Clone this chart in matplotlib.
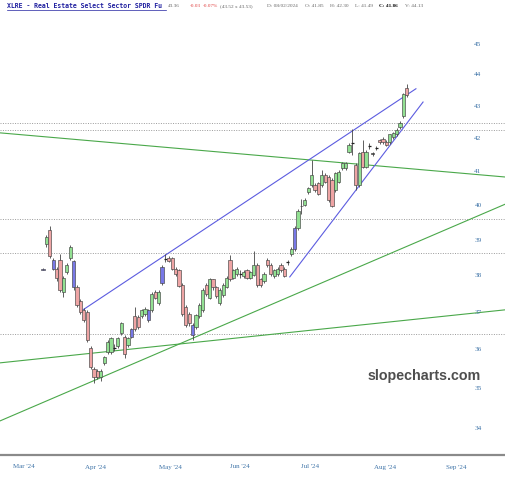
import numpy as np
import pandas as pd
import matplotlib
matplotlib.use("Agg")
import matplotlib.pyplot as plt
import matplotlib.ticker as mticker
from matplotlib.patches import Rectangle
from matplotlib.transforms import blended_transform_factory

# trading calendar (index of trading days since 2024-03-01)
holidays = ["2024-03-29", "2024-05-27", "2024-06-19", "2024-07-04", "2024-09-02"]
days = pd.bdate_range("2024-03-01", "2024-09-30")
days = days[~days.isin(pd.to_datetime(holidays))]
first_bar = 15  # 2024-03-22

opens = [38.20, 38.88, 39.30, 38.45, 38.20, 38.45, 37.55, 38.10, 38.50, 38.40,
         37.70, 37.30, 37.05, 37.00, 36.05, 35.50, 35.45, 35.30, 35.65, 35.95,
         35.95, 36.06, 36.10, 36.45, 36.35, 36.13, 36.54, 36.90, 36.88, 36.90,
         36.95, 37.07, 37.07, 37.55, 37.25, 37.80, 38.46, 38.50, 38.50, 38.20,
         38.15, 37.75, 37.15, 36.95, 36.67, 36.60, 36.90, 37.07, 37.75, 37.40,
         37.90, 37.70, 37.25, 37.48, 37.70, 38.45, 37.95, 38.05, 38.06, 38.00,
         38.15, 37.95, 38.03, 38.30, 37.90, 37.85, 38.45, 38.30, 38.00, 38.05,
         38.30, 38.20, 38.37, 38.60, 38.75, 39.35, 40.00, 40.02, 40.40, 40.60,
         40.60, 40.65, 40.60, 40.90, 40.85, 40.75, 40.45, 40.70, 41.10, 41.10,
         41.60, 41.85, 41.20, 40.60, 41.60, 41.15, 41.80, 41.56, 41.70, 41.95,
         42.00, 41.90, 41.90, 42.05, 42.13, 42.35, 42.70, 43.60]
highs = [38.23, 39.15, 39.40, 38.50, 38.25, 38.62, 38.00, 38.35, 38.85, 38.45,
         37.75, 37.35, 37.12, 37.05, 36.10, 35.55, 35.50, 35.50, 35.85, 36.25,
         36.35, 36.15, 36.35, 36.75, 36.40, 36.35, 36.58, 37.15, 36.92, 37.10,
         37.15, 37.10, 37.55, 37.60, 37.60, 38.30, 38.60, 38.55, 38.52, 38.25,
         38.18, 37.80, 37.20, 37.00, 36.70, 36.95, 37.25, 37.65, 37.80, 37.95,
         37.92, 37.72, 37.65, 37.80, 38.00, 38.58, 38.18, 38.25, 38.15, 38.15,
         38.18, 38.12, 38.70, 38.35, 37.95, 38.10, 38.50, 38.35, 38.20, 38.25,
         38.35, 38.25, 38.45, 38.80, 39.40, 39.90, 40.20, 40.22, 40.55, 41.35,
         40.65, 40.70, 41.06, 40.95, 40.90, 40.80, 41.00, 41.05, 41.30, 41.30,
         41.88, 42.30, 41.25, 41.60, 41.97, 41.65, 41.88, 41.60, 41.78, 42.00,
         42.05, 41.95, 42.16, 42.22, 42.32, 42.55, 43.42, 43.72]
lows = [38.15, 38.80, 38.50, 38.15, 37.85, 37.55, 37.42, 38.05, 38.45, 37.60,
        37.15, 36.95, 36.75, 36.20, 35.50, 35.15, 35.25, 35.20, 35.60, 35.90,
        35.90, 35.98, 36.05, 36.40, 35.78, 36.08, 36.30, 36.50, 36.55, 36.85,
        36.90, 36.75, 37.02, 37.35, 37.20, 37.75, 38.38, 38.38, 38.15, 38.00,
        37.68, 36.90, 36.60, 36.62, 36.27, 36.55, 36.85, 37.02, 37.45, 37.35,
        37.62, 37.40, 37.20, 37.42, 37.65, 37.85, 37.90, 38.00, 37.95, 37.95,
        37.90, 37.90, 38.00, 37.70, 37.70, 37.80, 38.25, 38.00, 37.95, 38.00,
        38.10, 37.97, 38.30, 38.55, 38.70, 39.30, 39.75, 39.98, 40.35, 40.55,
        40.40, 40.30, 40.55, 40.65, 40.10, 39.95, 40.40, 40.65, 41.05, 41.05,
        41.55, 41.49, 40.45, 40.55, 41.10, 41.10, 41.70, 41.48, 41.65, 41.85,
        41.85, 41.78, 41.85, 42.00, 42.08, 42.30, 42.65, 43.30]
closes = [38.17, 39.10, 38.55, 38.20, 37.95, 37.60, 37.95, 38.30, 38.80, 37.70,
          37.20, 37.00, 36.80, 36.25, 35.55, 35.30, 35.30, 35.45, 35.80, 36.20,
          36.30, 36.05, 36.30, 36.70, 35.90, 36.30, 36.35, 36.55, 36.60, 37.05,
          37.10, 36.80, 37.50, 37.40, 37.55, 38.25, 38.45, 38.42, 38.20, 38.05,
          37.72, 36.95, 36.65, 36.70, 36.40, 36.92, 37.20, 37.60, 37.50, 37.90,
          37.68, 37.45, 37.60, 37.75, 37.95, 37.90, 38.15, 38.20, 38.05, 38.10,
          37.95, 38.10, 38.30, 37.75, 37.75, 38.05, 38.30, 38.05, 38.15, 38.20,
          38.15, 38.00, 38.38, 38.75, 39.35, 39.85, 39.98, 40.17, 40.52, 40.90,
          40.45, 40.35, 40.90, 40.70, 40.15, 40.00, 40.95, 41.00, 41.25, 41.25,
          41.82, 41.86, 40.60, 41.55, 41.15, 41.60, 41.78, 41.54, 41.72, 41.90,
          41.90, 41.82, 42.13, 42.18, 42.28, 42.50, 43.38, 43.35]
kinds = list("bgrbrrgggb" "rrrrrrrggg" "gkggrgbrrg" "gbgrgbkrrr" "rrrrbgggrg"
             "rrgggrggkg" "rggrrgrrgg" "rrkgbgkggg" "rrgrrrgggg" "ggrgrgkkkr"
             "rrgggggr")

# horizontal dotted levels and trend lines (bar index, price)
levels = [42.50, 42.26, 39.61, 38.64, 36.42]
green_lines = [((2.35, 42.18), (151.2, 40.84)),
               ((2.35, 34.18), (151.2, 40.05)),
               ((2.35, 35.66), (151.2, 37.07))]
blue_lines = [((26.8, 37.07), (124.7, 43.56)),
              ((87.6, 37.97), (126.8, 43.14))]
price_ticks = [34, 35, 36, 37, 38, 39, 40, 41, 42, 43, 44, 45]

fills = {"g": "#92e092", "r": "#eea4a4", "b": "#7878e6", "k": "#333333"}

fig = plt.figure(figsize=(5.06, 4.8), dpi=100)
ax = fig.add_axes([0, 25 / 480, 1, 440 / 480])
ax.set_yscale("log")
ax.set_ylim(33.34, 45.97)
ax.set_xlim(2.35, 151.2)
ax.yaxis.set_major_locator(mticker.NullLocator())
ax.yaxis.set_minor_locator(mticker.NullLocator())
ax.xaxis.set_major_locator(mticker.NullLocator())
for side in ["top", "left", "right"]:
    ax.spines[side].set_visible(False)
ax.spines["bottom"].set_color("#8a8a8a")
ax.spines["bottom"].set_linewidth(1.6)

for lv in levels:
    ax.axhline(lv, color="#9a9a9a", lw=0.7, ls=(0, (1, 1.5)), zorder=1)
for (x0, y0), (x1, y1) in green_lines:
    ax.plot([x0, x1], [y0, y1], color="#4aa84a", lw=0.8, zorder=2)
for (x0, y0), (x1, y1) in blue_lines:
    ax.plot([x0, x1], [y0, y1], color="#5c5ce0", lw=0.8, zorder=2)

w = 0.95
for i in range(len(opens)):
    x = first_bar + i
    o, h, l, c, k = opens[i], highs[i], lows[i], closes[i], kinds[i]
    ax.vlines(x, l, h, color="#444444", lw=0.6, zorder=3)
    lo, hi = min(o, c), max(o, c)
    if hi - lo < 0.02:
        ax.hlines((o + c) / 2, x - w / 2, x + w / 2, color="#222222", lw=0.9, zorder=4)
    else:
        ax.add_patch(Rectangle((x - w / 2, lo), w, hi - lo, facecolor=fills[k],
                               edgecolor="#444444", lw=0.45, zorder=4))

# price labels on the right
ty = blended_transform_factory(ax.transAxes, ax.transData)
for p in price_ticks:
    ax.text(478 / 506, p, str(p), transform=ty, ha="center", va="center",
            fontsize=5.2, color="#3f74a8", family="Liberation Serif")

# month labels centred on each month
tx = blended_transform_factory(ax.transData, ax.transAxes)
idx = np.arange(len(days))
for m in days.to_period("M").unique():
    pos = idx[days.to_period("M") == m].mean()
    ax.text(pos, -12 / 440, m.strftime("%b '%y"), transform=tx, ha="center",
            va="center", fontsize=5.0, color="#3f74a8", family="Liberation Serif")

ax.text(424 / 506, 1 - (376 - 15) / 440, "slopecharts.com", transform=ax.transAxes,
        ha="center", va="center", fontsize=10.3, fontweight="bold",
        color="#4e4e4e", family="Liberation Sans")

# header line
hy = 1 - 6 / 480
fig.text(7 / 506, hy, "XLRE - Real Estate Select Sector SPDR Fu", fontsize=4.7,
         fontweight="bold", color="#2020a0", family="DejaVu Sans Mono", va="center")
fig.add_artist(plt.Line2D([7 / 506, 166 / 506], [1 - 9.5 / 480, 1 - 9.5 / 480],
                          color="#2020a0", lw=0.5))
header = [(168, "43.36", "#666666", "normal"),
          (190, "-0.03", "#e04040", "normal"),
          (203, "-0.07%", "#e04040", "normal"),
          (220, "(43.52 x 43.53)", "#666666", "normal"),
          (267, "D: 08/02/2024", "#666666", "normal"),
          (305, "O: 41.85", "#666666", "normal"),
          (330, "H: 42.30", "#666666", "normal"),
          (355, "L: 41.49", "#666666", "normal"),
          (379, "C: 41.86", "#111111", "bold"),
          (405, "V: 44.13", "#666666", "normal")]
for px, s, col, wt in header:
    fig.text(px / 506, hy, s, fontsize=3.8, color=col, fontweight=wt,
             family="Liberation Serif", va="center")

fig.savefig("out.png", dpi=100)
